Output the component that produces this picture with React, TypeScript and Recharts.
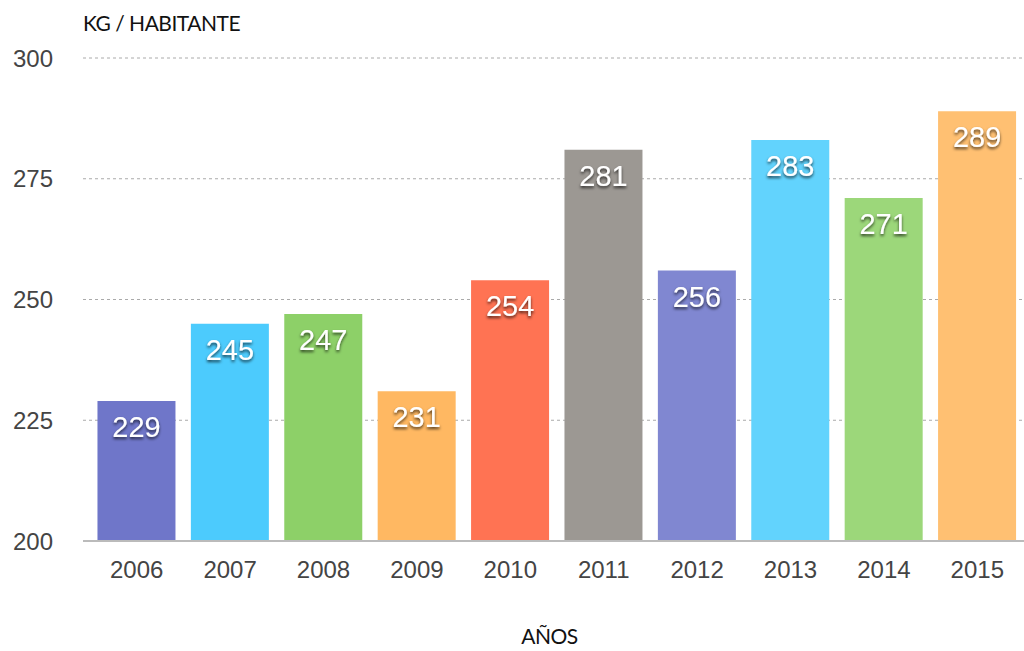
import { BarChart, Bar, XAxis, YAxis, CartesianGrid, Cell, LabelList } from "recharts";

const years = ["2006", "2007", "2008", "2009", "2010", "2011", "2012", "2013", "2014", "2015"];
const kgPorHabitante = [229, 245, 247, 231, 254, 281, 256, 283, 271, 289];
const colores = ["#6f76c9", "#4ccbfd", "#8dd068", "#ffb862", "#ff7353", "#9c9893", "#8087d1", "#62d3fd", "#9cd77a", "#ffc072"];
const yTicks = [200, 225, 250, 275, 300];

const data = years.map((y, i) => ({ year: y, kg: kgPorHabitante[i] }));

const ValueLabel = (props: any) => {
    const { x, y, width, value } = props;
    const cx = x + width / 2;
    return (
        <g>
            <defs>
                <filter id="sombra" x="-20%" y="-20%" width="140%" height="160%">
                    <feDropShadow dx="0" dy="2" stdDeviation="1.5" floodColor="#000" floodOpacity="0.7" />
                </filter>
            </defs>
            <text x={cx} y={y + 36} textAnchor="middle" fill="#fff" fontSize={29}
                fontFamily="'Liberation Sans', Arial, sans-serif" filter="url(#sombra)">
                {value}
            </text>
        </g>
    );
};

const App = () => {
    return (
        <div style={{ position: "absolute", left: 0, top: 0, width: 1024, height: 651, background: "#fff" }}>
            <BarChart width={1024} height={651} data={data} barCategoryGap="8%"
                margin={{ top: 58, right: 0, bottom: 80, left: 0 }}>
                <CartesianGrid horizontal vertical={false} stroke="#aaa" strokeDasharray="3 3" />
                <XAxis dataKey="year" tickLine={false} tickSize={0} tickMargin={20} height={30}
                    padding={{ left: 7, right: 0 }}
                    axisLine={{ stroke: "#bbb", strokeWidth: 2 }}
                    tick={{ fill: "#444", fontSize: 24, fontFamily: "'Liberation Sans', Arial, sans-serif" }} />
                <YAxis domain={[200, 300]} ticks={yTicks} width={83} axisLine={false} tickLine={false}
                    tickSize={0} tickMargin={30} allowDataOverflow
                    tick={{ fill: "#444", fontSize: 24, fontFamily: "'Liberation Sans', Arial, sans-serif" }} />
                <Bar dataKey="kg" isAnimationActive={false}>
                    {data.map((d, i) => (
                        <Cell key={d.year} fill={colores[i]} />
                    ))}
                    <LabelList dataKey="kg" content={ValueLabel} />
                </Bar>
            </BarChart>
            <div style={{ position: "absolute", left: 83, top: 10, fontFamily: "Lato, sans-serif", fontSize: 21, letterSpacing: -0.5, color: "#111" }}>
                KG / HABITANTE
            </div>
            <div style={{ position: "absolute", left: 83, width: 933, top: 623, textAlign: "center", fontFamily: "Lato, sans-serif", fontSize: 21, letterSpacing: -0.5, color: "#111" }}>
                AÑOS
            </div>
        </div>
    );
};

export default App;
